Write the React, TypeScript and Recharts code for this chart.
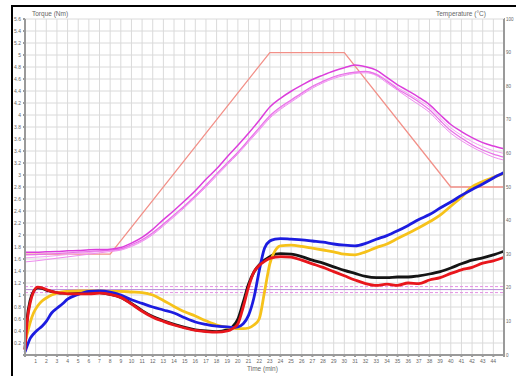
import React from 'react';
import { LineChart, Line, XAxis, YAxis, CartesianGrid, ReferenceLine } from 'recharts';

// torque samples (min) - denser where the curves move fast
const torqueTime = [0, 0.2, 0.5, 0.8, 1.2, 1.6, 2, 2.5, 3, 3.5, 4, 5, 6, 7, 8, 9, 10, 11, 12, 13, 14, 15, 16, 17, 18, 19, 19.5, 20, 20.5, 21, 21.5, 22, 22.5, 23, 23.5, 24, 25, 26, 27, 28, 29, 30, 31, 32, 33, 34, 35, 36, 37, 38, 39, 40, 41, 42, 43, 44, 45];

const torqueRed = [0.08, 0.55, 0.88, 1.05, 1.13, 1.12, 1.09, 1.06, 1.04, 1.03,
  1.02, 1.02, 1.02, 1.03, 1.01, 0.96, 0.85, 0.73, 0.63, 0.56, 0.5, 0.45, 0.41, 0.39, 0.38, 0.4,
  0.44, 0.52, 0.8, 1.13, 1.38, 1.49, 1.56, 1.61, 1.63, 1.64,
  1.63, 1.58, 1.52, 1.46, 1.39, 1.32, 1.25, 1.19, 1.16, 1.18, 1.16, 1.2, 1.19, 1.25, 1.29, 1.36, 1.42, 1.46, 1.53, 1.57, 1.63];
const torqueBlack = [0.1, 0.6, 0.92, 1.06, 1.12, 1.11, 1.08, 1.06, 1.04, 1.03,
  1.03, 1.04, 1.05, 1.04, 1.01, 0.96, 0.86, 0.74, 0.64, 0.57, 0.51, 0.46, 0.42, 0.4, 0.39, 0.42,
  0.47, 0.6, 0.88, 1.18, 1.38, 1.5, 1.58, 1.64, 1.68, 1.69,
  1.68, 1.64, 1.58, 1.53, 1.47, 1.41, 1.36, 1.31, 1.29, 1.29, 1.3, 1.3, 1.32, 1.35, 1.39, 1.45, 1.52, 1.58, 1.62, 1.67, 1.73];
const torqueYellow = [0.22, 0.35, 0.55, 0.7, 0.82, 0.9, 0.95, 1.0, 1.03, 1.05,
  1.06, 1.07, 1.07, 1.07, 1.06, 1.06, 1.05, 1.04, 1.0, 0.91, 0.81, 0.72, 0.65, 0.57, 0.5, 0.46,
  0.45, 0.44, 0.44, 0.45, 0.5, 0.6, 1.05, 1.52, 1.74, 1.82,
  1.83, 1.81, 1.78, 1.75, 1.72, 1.68, 1.67, 1.72, 1.79, 1.85, 1.94, 2.03, 2.12, 2.22, 2.33, 2.48, 2.63, 2.8, 2.89, 2.96, 3.03];
const torqueBlue = [0.05, 0.15, 0.28, 0.35, 0.42, 0.48, 0.56, 0.7, 0.78, 0.85,
  0.93, 1.01, 1.06, 1.07, 1.05, 1.0, 0.92, 0.86, 0.8, 0.75, 0.7, 0.62, 0.55, 0.51, 0.48, 0.47,
  0.46, 0.47, 0.52, 0.66, 0.95, 1.4, 1.78, 1.9, 1.93, 1.94,
  1.93, 1.92, 1.9, 1.88, 1.85, 1.83, 1.82, 1.86, 1.93, 1.99, 2.07, 2.16, 2.26, 2.34, 2.45, 2.55, 2.66, 2.76, 2.85, 2.95, 3.04];

// sample temperatures, one per minute 0..45
const tempTime = [0, 1, 2, 3, 4, 5, 6, 7, 8, 9, 10, 11, 12, 13, 14, 15, 16, 17, 18, 19, 20, 21, 22, 23, 24, 25, 26, 27, 28, 29, 30, 31, 32, 33, 34, 35, 36, 37, 38, 39, 40, 41, 42, 43, 44, 45];
const tempA = [30.6, 30.6, 30.7, 30.8, 31.0, 31.1, 31.3, 31.4, 31.5, 32.0, 33.3, 35.0, 37.4, 40.3, 43.0, 45.9, 48.9, 52.3, 55.4, 59.0, 62.4, 66.0, 69.8, 73.8, 76.4, 78.5, 80.3, 82.0, 83.3, 84.5, 85.5, 86.3, 85.8, 84.8, 82.6, 80.4, 78.6, 76.7, 74.5, 71.5, 68.6, 66.5, 64.7, 63.2, 62.2, 61.4];
const tempB = [29.8, 29.9, 30.0, 30.2, 30.4, 30.6, 30.8, 31.0, 31.2, 31.6, 32.8, 34.3, 36.4, 39.0, 41.7, 44.4, 47.4, 50.6, 53.9, 57.2, 60.4, 64.0, 67.6, 71.2, 73.8, 75.9, 78.0, 80.0, 81.5, 82.8, 83.7, 84.2, 84.4, 83.5, 81.5, 79.2, 77.3, 75.3, 73.0, 69.8, 66.8, 64.6, 62.6, 61.0, 59.8, 58.9];
const tempC = [28.9, 29.1, 29.3, 29.6, 29.9, 30.2, 30.5, 30.8, 31.0, 31.4, 32.5, 34.0, 36.0, 38.7, 41.4, 44.2, 47.2, 50.3, 53.6, 56.9, 60.1, 63.7, 67.2, 70.8, 73.4, 75.6, 77.7, 79.7, 81.3, 82.6, 83.5, 84.0, 84.3, 83.7, 81.8, 79.6, 77.8, 75.9, 73.8, 70.6, 67.6, 65.4, 63.5, 62.0, 60.8, 60.0];
const tempD = [27.7, 28.0, 28.4, 28.8, 29.2, 29.6, 30.0, 30.4, 30.8, 31.2, 32.3, 33.8, 35.8, 38.4, 41.1, 43.9, 46.9, 50.0, 53.3, 56.6, 59.8, 63.4, 66.9, 70.5, 73.1, 75.3, 77.4, 79.4, 81.0, 82.3, 83.2, 83.8, 84.0, 83.2, 81.0, 78.8, 76.6, 74.5, 72.2, 69.0, 66.0, 63.8, 61.9, 60.3, 58.9, 58.0];

// programmed temperature profile
const setTime = [0, 8, 23, 30, 40, 45];
const setTemp = [30, 30, 90, 90, 50, 50];

const xTicks = Array.from({ length: 46 }, (_, i) => i);
const torqueTicks = Array.from({ length: 29 }, (_, i) => Math.round(i * 2) / 10);
const tempTicks = [0, 10, 20, 30, 40, 50, 60, 70, 80, 90, 100];

const toRows = (xs: number[], ys: number[]) => xs.map((t, i) => ({ t, v: ys[i] }));

const tickStyle = { fontSize: 5, fill: '#666', fontFamily: 'Liberation Sans, Arial, sans-serif' };
const rightTickStyle = { ...tickStyle, fontSize: 4.5 };
const titleStyle: React.CSSProperties = {
  position: 'absolute', fontSize: 6.5, color: '#666', fontFamily: 'Liberation Sans, Arial, sans-serif',
};

const torqueSeries = [
  { key: 'black', data: torqueBlack, color: '#151515' },
  { key: 'yellow', data: torqueYellow, color: '#f6c21a' },
  { key: 'blue', data: torqueBlue, color: '#1c1ce0' },
  { key: 'red', data: torqueRed, color: '#e8161c' },
];

const tempSeries = [
  { key: 'D', data: tempD, color: '#f08cf0', w: 1 },
  { key: 'C', data: tempC, color: '#f3a2f3', w: 1 },
  { key: 'B', data: tempB, color: '#e970e9', w: 1.2 },
  { key: 'A', data: tempA, color: '#dc3edc', w: 1.5 },
];

export default function App() {
  return (
    <div style={{ position: 'absolute', left: 0, top: 0, width: 516, height: 376, background: '#fff', overflow: 'hidden' }}>
      <div style={{ position: 'absolute', left: 11, top: 5, width: 520, height: 380, borderTop: '2px solid #000', borderLeft: '2px solid #000' }} />
      <LineChart width={516} height={376} margin={{ top: 19, right: 0, bottom: 9, left: 13 }}>
        <CartesianGrid stroke="#dadada" strokeWidth={1} yAxisId="left" />
        <XAxis
          type="number"
          dataKey="t"
          domain={[0, 45]}
          ticks={xTicks}
          interval={0}
          tick={tickStyle}
          tickSize={2}
          tickFormatter={(v: number) => (v === 0 || v === 45 ? '' : String(v))}
          stroke="#9a9a9a"
          strokeWidth={2}
          height={12}
          allowDuplicatedCategory={false}
        />
        <YAxis
          yAxisId="left"
          type="number"
          domain={[0, 5.6]}
          ticks={torqueTicks}
          interval={0}
          tick={tickStyle}
          tickSize={2}
          tickFormatter={(v: number) => (v === 0 ? '' : String(v))}
          stroke="#9a9a9a"
          strokeWidth={2}
          width={12}
        />
        <YAxis
          yAxisId="right"
          orientation="right"
          type="number"
          domain={[0, 100]}
          ticks={tempTicks}
          interval={0}
          tick={rightTickStyle}
          tickSize={1}
          tickMargin={1}
          stroke="#9a9a9a"
          strokeWidth={2}
          width={12}
        />
        <ReferenceLine yAxisId="left" y={1.14} stroke="#e48fe4" strokeDasharray="3 2" strokeWidth={1} />
        <ReferenceLine yAxisId="left" y={1.09} stroke="#b88ad8" strokeWidth={1} />
        <ReferenceLine yAxisId="left" y={1.04} stroke="#e48fe4" strokeDasharray="3 2" strokeWidth={1} />
        <Line
          yAxisId="right"
          data={toRows(setTime, setTemp)}
          dataKey="v"
          type="linear"
          stroke="#f29088"
          strokeWidth={1.3}
          dot={false}
          isAnimationActive={false}
        />
        {tempSeries.map(s => (
          <Line
            key={s.key}
            yAxisId="right"
            data={toRows(tempTime, s.data)}
            dataKey="v"
            type="monotone"
            stroke={s.color}
            strokeWidth={s.w}
            dot={false}
            isAnimationActive={false}
          />
        ))}
        {torqueSeries.map(s => (
          <Line
            key={s.key}
            yAxisId="left"
            data={toRows(torqueTime, s.data)}
            dataKey="v"
            type="monotone"
            stroke={s.color}
            strokeWidth={2.8}
            dot={false}
            isAnimationActive={false}
          />
        ))}
      </LineChart>
      <div style={{ ...titleStyle, left: 32, top: 10 }}>Torque (Nm)</div>
      <div style={{ ...titleStyle, left: 436, top: 10 }}>Temperature (°C)</div>
      <div style={{ ...titleStyle, left: 247, top: 365 }}>Time (min)</div>
    </div>
  );
}
